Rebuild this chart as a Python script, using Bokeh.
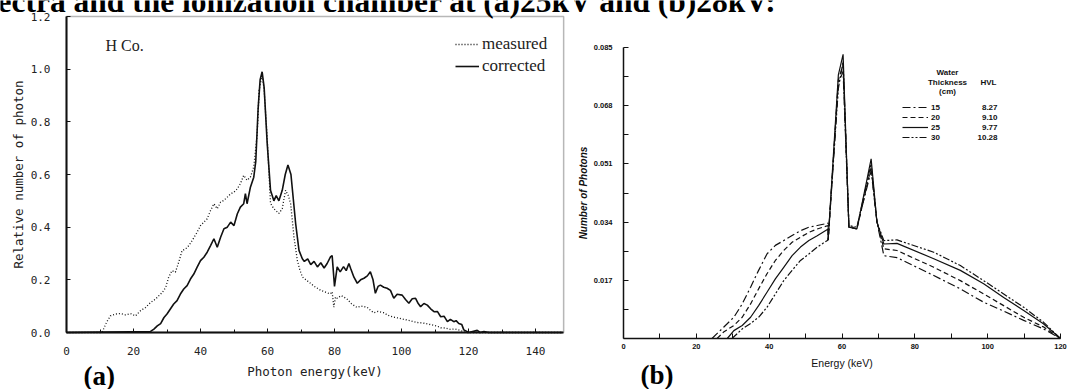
from bokeh.plotting import figure
from bokeh.models import (FixedTicker, PrintfTickFormatter, Label, Legend, LegendItem,
                          Range1d, ColumnDataSource, LinearAxis, BoxAnnotation)
from bokeh.layouts import row
from bokeh.embed import file_html
from bokeh.resources import INLINE
from bokeh.core.properties import value

# ---------------- Panel (a) data ----------------
meas_e = [0, 10.6, 12.0, 13.1, 14.6, 16.1, 17.6, 19.1, 20.6, 22.1, 23.6, 25.1, 26.6, 27.6, 28.6, 29.6,
          30.5, 31.5, 32.5, 33.5, 34.5, 35.5, 36.5, 37.5, 39.0, 40.0, 41.0, 42.0, 43.0, 44.0, 45.0,
          46.0, 47.0, 48.0, 49.0, 50.0, 51.0, 51.9, 52.9, 53.9, 54.9, 55.9, 56.9, 57.5, 58.4, 59.0,
          59.9, 60.9, 61.9, 63.4, 64.4, 65.4, 66.2, 66.9, 67.9, 68.9, 69.6, 70.4, 71.5, 72.9, 74.0,
          75.9, 77.0, 78.0, 78.8, 79.3, 79.8, 80.3, 80.8, 82.0, 83.7, 85.0, 86.7, 88.0, 89.7, 90.7,
          91.7, 93.0, 94.7, 96.0, 97.7, 99.0, 100.7, 102.5, 104.7, 106.5, 108.7, 110.5, 111.7, 113.0,
          114.6, 116.0, 117.6, 119.1, 148]
meas_v = [0, 0, 0.04, 0.063, 0.070, 0.072, 0.067, 0.072, 0.063, 0.083, 0.095, 0.114, 0.127, 0.14, 0.152,
          0.171, 0.21, 0.235, 0.229, 0.267, 0.311, 0.317, 0.33, 0.349, 0.381, 0.406, 0.419, 0.432,
          0.463, 0.489, 0.47, 0.495, 0.502, 0.514, 0.527, 0.533, 0.546, 0.565, 0.597, 0.578, 0.59,
          0.629, 0.75, 0.92, 0.98, 0.92, 0.74, 0.49, 0.47, 0.452, 0.47, 0.54, 0.52, 0.49, 0.363,
          0.274, 0.24, 0.211, 0.2, 0.186, 0.175, 0.16, 0.155, 0.15, 0.147, 0.155, 0.096, 0.135, 0.13,
          0.14, 0.128, 0.11, 0.095, 0.1, 0.096, 0.085, 0.075, 0.08, 0.075, 0.065, 0.058, 0.055, 0.05,
          0.045, 0.038, 0.036, 0.03, 0.025, 0.018, 0.017, 0.012, 0.013, 0.008, 0.0, 0]

corr_e = [0, 25.1, 26.1, 27.1, 28.1, 29.1, 30.0, 31.0, 32.0, 33.0, 34.0, 35.0, 36.0, 37.0, 38.0, 39.0,
          40.0, 41.0, 42.0, 43.0, 44.0, 45.0, 46.0, 47.0, 48.0, 49.0, 50.0, 51.0, 51.9, 52.9, 53.4,
          53.9, 54.9, 55.9, 56.5, 57.2, 57.8, 58.4, 59.0, 59.9, 60.9, 61.9, 62.6, 63.4, 64.4, 65.3,
          66.1, 67.0, 68.4, 69.4, 70.4, 71.0, 72.0, 72.9, 73.9, 74.9, 75.9, 76.9, 77.8, 78.8, 79.3,
          80.0, 80.8, 81.7, 82.7, 83.5, 84.3, 84.8, 85.8, 86.8, 87.8, 88.8, 89.8, 90.7, 91.5, 92.2,
          93.0, 93.7, 94.7, 95.7, 96.7, 97.7, 98.7, 100.2, 101.2, 102.2, 103.2, 104.2, 105.0, 105.7,
          106.7, 107.7, 108.7, 109.7, 110.7, 111.7, 112.7, 113.7, 114.6, 115.6, 116.3, 117.1, 118.0,
          118.6, 120.1, 122.6, 123.5, 124.6, 126.0, 148]
corr_v = [0, 0.004, 0.013, 0.025, 0.034, 0.057, 0.070, 0.089, 0.108, 0.121, 0.146, 0.165, 0.178, 0.203,
          0.222, 0.248, 0.273, 0.286, 0.305, 0.33, 0.356, 0.324, 0.362, 0.394, 0.40, 0.419, 0.406,
          0.451, 0.476, 0.489, 0.527, 0.489, 0.552, 0.59, 0.65, 0.85, 0.96, 0.99, 0.93, 0.72, 0.54,
          0.50, 0.52, 0.50, 0.54, 0.60, 0.636, 0.60, 0.414, 0.312, 0.28, 0.27, 0.28, 0.258, 0.27,
          0.249, 0.265, 0.245, 0.262, 0.287, 0.292, 0.175, 0.249, 0.23, 0.25, 0.235, 0.262, 0.244,
          0.21, 0.187, 0.2, 0.206, 0.215, 0.231, 0.2, 0.149, 0.175, 0.18, 0.172, 0.168, 0.16, 0.13,
          0.145, 0.142, 0.125, 0.111, 0.128, 0.13, 0.11, 0.098, 0.11, 0.104, 0.09, 0.079, 0.08, 0.06,
          0.062, 0.041, 0.05, 0.041, 0.045, 0.034, 0.03, 0.01, 0.0, 0.008, 0.0, 0.004, 0, 0]

a_xticks = [0, 20, 40, 60, 80, 100, 120, 140]
a_xminor = [10, 30, 50, 70, 90, 110, 130]
a_yticks = [0.0, 0.2, 0.4, 0.6, 0.8, 1.0, 1.2]
a_xmax = 148.4
a_ymax = 1.2

# ---------------- Panel (b) data ----------------
b_e15 = [24.3, 27.5, 30.3, 32.6, 34.9, 37.1, 39.4, 41.7, 44.0, 46.3, 48.6, 50.9, 53.2, 56.2, 56.2,
         59.0, 60.3, 61.9, 64.1, 68.0, 69.6, 71.5, 75.1, 85.2, 92.5, 98.9, 104.4, 109.9, 115.3, 120.0]
b_v15 = [0, 0.0033, 0.0062, 0.0101, 0.015, 0.0199, 0.0247, 0.0272, 0.0286, 0.0301, 0.0315, 0.0325,
         0.033, 0.0337, 0.0288, 0.0745, 0.078, 0.0325, 0.0325, 0.049, 0.034, 0.0242, 0.0236, 0.0184,
         0.0145, 0.0106, 0.008, 0.0053, 0.0028, 0]
b_e20 = [25.7, 27.5, 30.3, 32.6, 34.9, 37.1, 39.4, 41.7, 44.0, 46.3, 48.6, 50.9, 53.2, 56.2, 56.2,
         59.0, 60.3, 61.9, 64.1, 68.0, 69.6, 71.5, 75.1, 85.2, 92.5, 98.9, 104.4, 109.9, 115.3, 120.0]
b_v20 = [0, 0.0019, 0.0038, 0.0062, 0.0101, 0.0145, 0.0189, 0.0228, 0.0257, 0.0281, 0.0296, 0.031,
         0.032, 0.033, 0.0288, 0.0755, 0.080, 0.0325, 0.032, 0.050, 0.034, 0.0262, 0.0257, 0.0208,
         0.0169, 0.013, 0.0096, 0.0062, 0.0034, 0]
b_e25 = [28.5, 30.3, 32.6, 34.9, 37.1, 39.4, 41.7, 44.0, 46.3, 48.6, 50.9, 53.2, 56.2, 56.2, 59.0,
         60.3, 61.9, 64.1, 68.0, 69.6, 71.5, 75.1, 85.2, 92.5, 98.9, 104.4, 109.9, 115.3, 120.0]
b_v25 = [0, 0.0023, 0.0038, 0.0062, 0.0096, 0.0135, 0.0174, 0.0208, 0.0242, 0.0267, 0.0286, 0.030,
         0.032, 0.0288, 0.077, 0.083, 0.0325, 0.032, 0.0525, 0.034, 0.0276, 0.0278, 0.0233, 0.0199,
         0.016, 0.012, 0.0082, 0.0043, 0]
b_e30 = [29.8, 32.6, 34.9, 37.1, 39.4, 41.7, 44.0, 46.3, 48.6, 50.9, 53.2, 56.2, 59.0, 60.3, 61.9,
         64.1, 68.0, 69.6, 71.5, 75.1, 85.2, 92.5, 98.9, 104.4, 109.9, 115.3, 120.0]
b_v30 = [0, 0.0028, 0.0044, 0.0062, 0.0091, 0.013, 0.0169, 0.0199, 0.0228, 0.0247, 0.0267, 0.0288,
         0.073, 0.081, 0.033, 0.0325, 0.051, 0.034, 0.0286, 0.0288, 0.0252, 0.0213, 0.0169, 0.013,
         0.0091, 0.0048, 0]

b_thickness = ["15", "20", "25", "30"]
b_hvl = ["8.27", "9.10", "9.77", "10.28"]
b_xticks = [0, 20, 40, 60, 80, 100, 120]
b_xminor = [10, 30, 50, 70, 90, 110]
b_yticks = [0.017, 0.034, 0.051, 0.068, 0.085]
b_yminor = [0.0085, 0.0255, 0.0425, 0.0595, 0.0765]
b_xmax = 120
b_ymax = 0.085

caption = "ectra and the ionization chamber at (a)25kV and (b)28kV:"

INK = "#111111"
W_A, W_B, H = 575, 496, 389

# ---------- layout geometry (pixels) ----------
ax0, ay0, asx, asy = 66.0, 332.0, 3.35, 263.33
bx0, by0, bsx, bsy = 48.0, 338.0, 437.0 / 120.0, 3423.5


def a_dx(px):
    return (px - ax0) / asx


def a_dy(py):
    return (ay0 - py) / asy


def b_dx(px):
    return (px - bx0) / bsx


def b_dy(py):
    return (by0 - py) / bsy


# ================= Panel (a) =================
pa = figure(width=W_A, height=H, output_backend="svg", toolbar_location=None, title=None,
            x_range=Range1d(a_dx(0), a_dx(W_A)), y_range=Range1d(a_dy(H), a_dy(0)),
            x_axis_location=None, y_axis_location=None, min_border=0,
            min_border_left=0, min_border_right=0, min_border_top=0, min_border_bottom=0)
pa.grid.visible = False
pa.outline_line_color = None
pa.background_fill_color = "white"
pa.border_fill_color = "white"

pa.add_layout(BoxAnnotation(left=0, right=a_xmax, bottom=0, top=a_ymax, fill_color=None,
                            fill_alpha=0, line_color=INK, line_width=1.5))

r_meas = pa.line(meas_e, meas_v, line_color=INK, line_width=1.3, line_dash="1 2")
r_corr = pa.line(corr_e, corr_v, line_color=INK, line_width=1.6)

ax = LinearAxis(fixed_location=0, bounds=(0, a_xmax),
                ticker=FixedTicker(ticks=a_xticks, minor_ticks=a_xminor),
                axis_label="Photon energy(keV)")
ay = LinearAxis(fixed_location=0, bounds=(0, a_ymax),
                ticker=FixedTicker(ticks=a_yticks),
                formatter=PrintfTickFormatter(format="%.1f"),
                axis_label="Relative number of photon")
for a in (ax, ay):
    a.axis_line_color = INK
    a.axis_line_width = 2
    a.major_tick_in = 4
    a.major_tick_out = 0
    a.minor_tick_in = 3
    a.minor_tick_out = 0
    a.major_tick_line_color = INK
    a.minor_tick_line_color = INK
    a.major_label_text_font = "DejaVu Sans Mono"
    a.major_label_text_font_size = "11px"
    a.major_label_text_color = "#222222"
    a.axis_label_text_font = "DejaVu Sans Mono"
    a.axis_label_text_font_size = "12.5px"
    a.axis_label_text_font_style = "normal"
    a.axis_label_text_color = "#222222"
ay.minor_tick_line_color = None
ax.major_label_standoff = 14
ax.axis_label_standoff = 6
ay.major_label_standoff = 16
ay.axis_label_standoff = 2
pa.add_layout(ax, "below")
pa.add_layout(ay, "left")

leg_a = Legend(items=[LegendItem(label="measured", renderers=[r_meas]),
                      LegendItem(label="corrected", renderers=[r_corr])],
               location=(455, H - 75.5), orientation="vertical",
               label_text_font="Liberation Serif", label_text_font_size="17px",
               label_text_color="#222222",
               glyph_width=24, glyph_height=16, label_height=16, spacing=2,
               label_standoff=3, padding=0, margin=0,
               border_line_color=None, background_fill_alpha=0)
pa.add_layout(leg_a)

pa.add_layout(Label(x=a_dx(105), y=a_dy(45), text="H Co.", text_font="Liberation Serif",
                    text_font_size="16px", text_color="#222222", text_baseline="middle"))
pa.add_layout(Label(x=a_dx(83), y=a_dy(375), text="(a)", text_font="Liberation Serif",
                    text_font_style="bold", text_font_size="27px", text_color="black",
                    text_baseline="middle"))
cap_font = dict(text_font="Liberation Serif", text_font_style="bold", text_font_size="31.5px",
                text_color="black", text_baseline="middle")
pa.add_layout(Label(x=a_dx(-3), y=a_dy(1.0), text=caption, **cap_font))

# ================= Panel (b) =================
pb = figure(width=W_B, height=H, output_backend="svg", toolbar_location=None, title=None,
            x_range=Range1d(b_dx(0), b_dx(W_B)), y_range=Range1d(b_dy(H), b_dy(0)),
            x_axis_location=None, y_axis_location=None, min_border=0,
            min_border_left=0, min_border_right=0, min_border_top=0, min_border_bottom=0)
pb.grid.visible = False
pb.outline_line_color = None
pb.background_fill_color = "white"
pb.border_fill_color = "white"

dashes = ["8 3 2 3", "5 3", "solid", "7 2 2 2 2 2"]
series_e = [b_e15, b_e20, b_e25, b_e30]
series_v = [b_v15, b_v20, b_v25, b_v30]
b_renderers = []
for e, v, d in zip(series_e, series_v, dashes):
    b_renderers.append(pb.line(e, v, line_color=INK, line_width=1.2, line_dash=d))

bx = LinearAxis(fixed_location=0, bounds=(0, b_xmax),
                ticker=FixedTicker(ticks=b_xticks, minor_ticks=b_xminor),
                axis_label="Energy (keV)")
by = LinearAxis(fixed_location=0, bounds=(0, b_ymax),
                ticker=FixedTicker(ticks=b_yticks, minor_ticks=b_yminor),
                formatter=PrintfTickFormatter(format="%.3f"),
                axis_label="Number of Photons")
for a in (bx, by):
    a.axis_line_color = INK
    a.axis_line_width = 1.5
    a.major_tick_in = 5
    a.major_tick_out = 0
    a.minor_tick_in = 5
    a.minor_tick_out = 0
    a.major_tick_line_color = INK
    a.minor_tick_line_color = INK
    a.major_label_text_font = "Liberation Sans"
    a.major_label_text_font_style = "bold"
    a.major_label_text_font_size = "7.5px"
    a.major_label_text_color = INK
    a.axis_label_text_font = "Liberation Sans"
    a.axis_label_text_color = INK
bx.major_label_standoff = 5
bx.axis_label_standoff = 5
bx.axis_label_text_font_size = "10.5px"
bx.axis_label_text_font_style = "normal"
by.major_label_standoff = 11
by.axis_label_standoff = 2
by.axis_label_text_font_size = "10px"
by.axis_label_text_font_style = "bold italic"
pb.add_layout(bx, "below")
pb.add_layout(by, "left")

leg_b = Legend(items=[LegendItem(label=t, renderers=[r]) for t, r in zip(b_thickness, b_renderers)],
               location=(902 - W_A, H - 142), orientation="vertical",
               label_text_font="Liberation Sans", label_text_font_style="bold",
               label_text_font_size="8px", label_text_color=INK,
               glyph_width=26, glyph_height=10, label_height=10, spacing=0,
               label_standoff=3, padding=0, margin=0,
               border_line_color=None, background_fill_alpha=0)
pb.add_layout(leg_b)

hdr_font = dict(text_font="Liberation Sans", text_font_style="bold", text_font_size="8px",
                text_color=INK, text_baseline="middle")
hx = b_dx(947 - W_A)
pb.add_layout(Label(x=hx, y=b_dy(72), text="Water", text_align="center", **hdr_font))
pb.add_layout(Label(x=hx, y=b_dy(82), text="Thickness", text_align="center", **hdr_font))
pb.add_layout(Label(x=hx, y=b_dy(91), text="(cm)", text_align="center", **hdr_font))
pb.add_layout(Label(x=b_dx(988 - W_A), y=b_dy(82), text="HVL", text_align="center", **hdr_font))

hvl_src = ColumnDataSource(dict(x=[b_dx(997 - W_A)] * len(b_hvl),
                                y=[b_dy(107 + 10 * i) for i in range(len(b_hvl))],
                                t=b_hvl))
pb.text(x="x", y="y", text="t", source=hvl_src, text_align="right", text_baseline="middle",
        text_font=value("Liberation Sans"), text_font_style="bold", text_font_size="8px",
        text_color=INK)

pb.add_layout(Label(x=b_dx(640 - W_A), y=b_dy(374), text="(b)", text_font="Liberation Serif",
                    text_font_style="bold", text_font_size="27px", text_color="black",
                    text_baseline="middle"))
pb.add_layout(Label(x=b_dx(-3 - W_A), y=b_dy(1.0), text=caption, **cap_font))

layout = row(pa, pb)
open("out.html", "w").write(file_html(layout, INLINE))
